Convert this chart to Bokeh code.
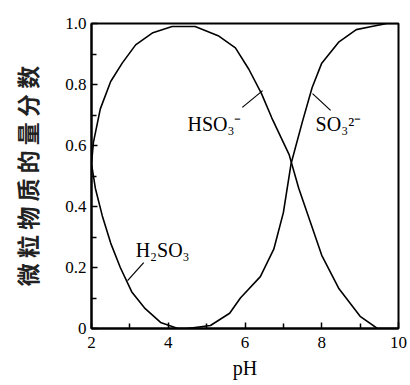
from bokeh.plotting import figure
from bokeh.models import FixedTicker, Range1d
from bokeh.embed import file_html
from bokeh.resources import INLINE
from bokeh.core.properties import value

# --- data ---
ph_h2so3 = [2.0, 2.1, 2.28, 2.5, 2.75, 3.05, 3.4, 3.8, 4.25, 4.6]
frac_h2so3 = [0.54, 0.46, 0.37, 0.28, 0.20, 0.12, 0.065, 0.02, 0.0, 0.0]

ph_hso3 = [2.0, 2.05, 2.23, 2.5, 2.8, 3.15, 3.6, 4.1, 4.7, 5.3, 5.75, 6.1, 6.43,
           6.7, 7.15, 7.4, 7.7, 8.0, 8.45, 9.0, 9.45, 10.0]
frac_hso3 = [0.54, 0.61, 0.72, 0.81, 0.87, 0.93, 0.97, 0.99, 0.99, 0.96, 0.92, 0.85, 0.77,
             0.69, 0.57, 0.46, 0.35, 0.24, 0.13, 0.04, 0.0, 0.0]

ph_so3 = [4.5, 5.1, 5.6, 5.88, 6.4, 6.75, 7.0, 7.2, 7.5, 7.75, 8.0, 8.45, 8.9, 9.3, 9.7, 10.0]
frac_so3 = [0.0, 0.01, 0.05, 0.10, 0.17, 0.26, 0.38, 0.54, 0.68, 0.79, 0.87, 0.94, 0.98, 0.99, 1.0, 1.0]

x_ticks = [2, 4, 6, 8, 10]
x_minor = [3, 5, 7, 9]
y_ticks = [0.0, 0.2, 0.4, 0.6, 0.8, 1.0]
y_tick_labels = ["0", "0.2", "0.4", "0.6", "0.8", "1.0"]
y_minor = [0.1, 0.3, 0.5, 0.7, 0.9]

labels = ["HSO₃⁻", "SO₃²⁻", "H₂SO₃"]
label_x = [4.5, 7.84, 3.15]
label_y = [0.67, 0.67, 0.256]
leader_x0 = [5.93, 8.23, 3.36]
leader_y0 = [0.725, 0.715, 0.216]
leader_x1 = [6.46, 7.76, 2.94]
leader_y1 = [0.78, 0.77, 0.157]

ylabel = "微 粒 物 质 的 量 分 数"
xlabel = "pH"

SERIF = "Liberation Serif"

p = figure(width=408, height=383, output_backend="svg", toolbar_location=None,
           x_range=Range1d(2, 10), y_range=Range1d(0, 1.0))
p.min_border_left = 91
p.min_border_right = 10
p.min_border_top = 23
p.min_border_bottom = 55
p.background_fill_color = "white"
p.border_fill_color = "white"
p.outline_line_color = "black"
p.outline_line_width = 2
p.xgrid.visible = False
p.ygrid.visible = False

for ax in (p.xaxis[0], p.yaxis[0]):
    ax.axis_line_color = "black"
    ax.axis_line_width = 2
    ax.major_tick_in = 6
    ax.major_tick_out = 0
    ax.minor_tick_in = 5
    ax.minor_tick_out = 0
    ax.major_tick_line_color = "black"
    ax.minor_tick_line_color = "black"
    ax.major_tick_line_width = 1.5
    ax.minor_tick_line_width = 1.5
    ax.major_label_text_font = SERIF
    ax.major_label_text_font_size = "17px"
    ax.major_label_text_color = "black"

p.xaxis[0].ticker = FixedTicker(ticks=x_ticks, minor_ticks=x_minor)
p.yaxis[0].ticker = FixedTicker(ticks=y_ticks, minor_ticks=y_minor)
p.yaxis[0].major_label_overrides = {t: s for t, s in zip(y_ticks, y_tick_labels)}
p.xaxis[0].major_label_standoff = 8
p.yaxis[0].major_label_standoff = 5

p.xaxis[0].axis_label = xlabel
p.xaxis[0].axis_label_text_font = SERIF
p.xaxis[0].axis_label_text_font_style = "normal"
p.xaxis[0].axis_label_text_font_size = "20px"
p.xaxis[0].axis_label_standoff = 6
p.xaxis[0].axis_label_text_color = "black"

p.yaxis[0].axis_label = ylabel
p.yaxis[0].axis_label_text_font = "Noto Sans CJK SC"
p.yaxis[0].axis_label_text_font_style = "bold"
p.yaxis[0].axis_label_text_font_size = "23px"
p.yaxis[0].axis_label_standoff = 18
p.yaxis[0].axis_label_text_color = "#222222"

p.line(ph_h2so3, frac_h2so3, line_color="black", line_width=1.6)
p.line(ph_hso3, frac_hso3, line_color="black", line_width=1.6)
p.line(ph_so3, frac_so3, line_color="black", line_width=1.6)

p.segment(leader_x0, leader_y0, leader_x1, leader_y1, line_color="black", line_width=1.2)
p.text(label_x, label_y, text=labels, text_font=value(SERIF), text_font_size="20px",
       text_baseline="middle", text_align="left", text_color="black")

open("out.html", "w").write(file_html(p, INLINE))
